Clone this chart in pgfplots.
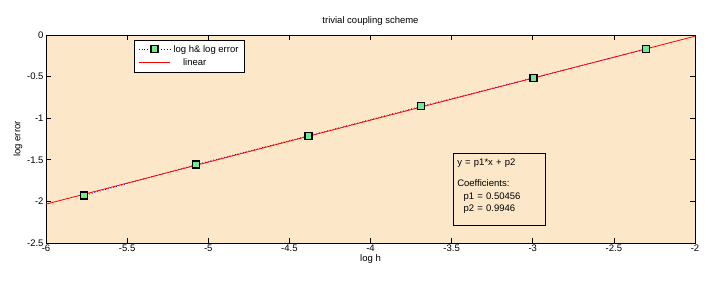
\documentclass[border=0pt]{standalone}
\usepackage{pgfplots}
\pgfplotsset{compat=1.18}
\usepackage{fontspec}
\setmainfont{Liberation Sans}
\definecolor{bg}{RGB}{252,232,200}
\definecolor{mk}{RGB}{120,232,140}
\begin{document}
\begin{tikzpicture}[x=1pt,y=1pt]
\begin{axis}[
  name=ax,
  at={(0,0)}, anchor=south west,
  scale only axis,
  width=649pt, height=208pt,
  xmin=-6, xmax=-2, ymin=-2.5, ymax=0,
  xtick={-6,-5.5,...,-2}, ytick={-2.5,-2,...,0},
  tick align=inside,
  major tick length=5pt,
  axis line style={line width=0.9pt},
  tick style={line width=0.6pt, black},
  axis background/.style={fill=bg},
  ticklabel style={font=\fontsize{9.5}{10}\selectfont},
  xticklabel style={yshift=2pt},
  yticklabel style={xshift=1pt},
  /pgf/number format/assume math mode=true,
  title={trivial coupling scheme},
  title style={font=\fontsize{9.5}{10}\selectfont, yshift=0pt},
  xlabel={log h}, ylabel={log error},
  label style={font=\fontsize{9.5}{10}\selectfont},
  xlabel style={yshift=4pt},
  ylabel style={yshift=-2pt},
  legend style={at={(0.136,0.976)}, anchor=north west,
    fill=white, font=\fontsize{9.5}{10}\selectfont, inner xsep=4pt, inner ysep=3pt, row sep=1pt,
    cells={anchor=west}},
  legend image code/.code={
    \draw[#1, mark repeat=2, mark phase=2] plot coordinates {(0pt,0pt) (5.5mm,0pt) (11mm,0pt)};},
  legend cell align=left,
]
\addplot[blue, dotted, line width=0.8pt, mark=square*,
  mark options={solid, fill=mk, draw=black, line width=1.2pt}, mark size=3.5pt]
  coordinates {(-5.768,-1.930) (-5.075,-1.557) (-4.382,-1.212) (-3.689,-0.858) (-2.996,-0.515) (-2.303,-0.172)};
\addlegendentry{\hspace{1pt}log h\& log error}
\addplot[red, line width=0.8pt] coordinates {(-6,-2.0328) (-2,-0.0145)};
\addlegendentry{\hspace{1pt}\quad linear}
\node[draw=black, line width=0.8pt, fill=bg, anchor=north west, align=left,
  font=\fontsize{9.5}{12.5}\selectfont, inner xsep=4pt, inner ysep=5pt, text width=84pt]
  at (axis cs:-3.492,-1.418)
  {y = p1*x + p2\\[9pt]Coefficients:\\\ \ p1 = 0.50456\\\ \ p2 = 0.9946\\[-4pt]\mbox{}};
\end{axis}
\pgfresetboundingbox
\path ([shift={(-46pt,-53pt)}]ax.south west) rectangle ([shift={(31pt,35pt)}]ax.north east);
\end{tikzpicture}
\end{document}
